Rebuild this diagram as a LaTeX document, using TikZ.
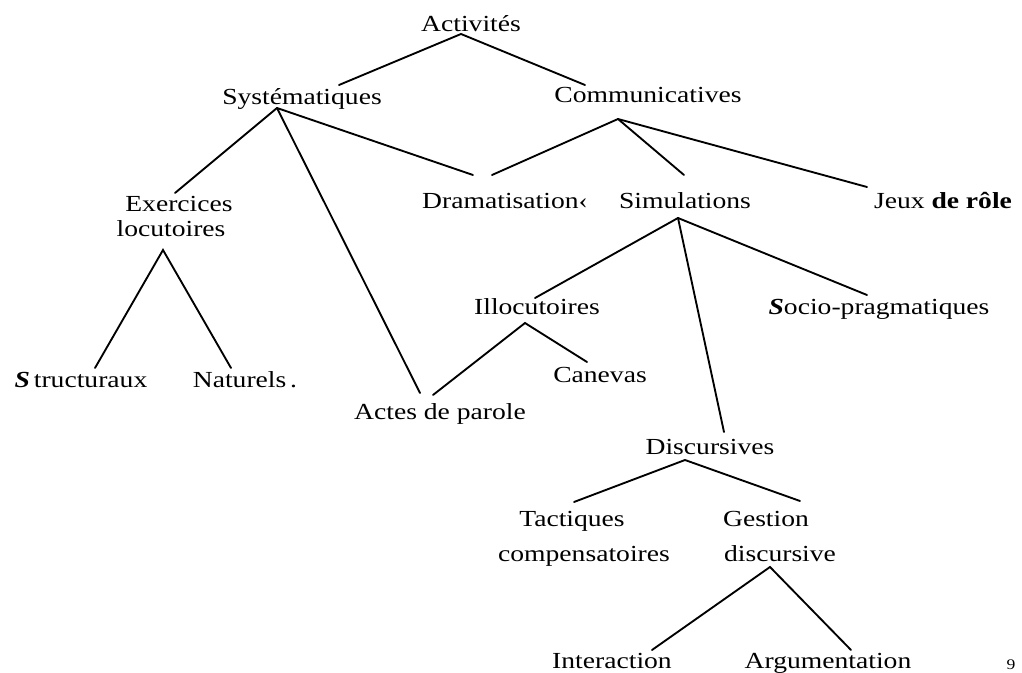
\documentclass[tikz,border=0pt]{standalone}
\usepackage{fontspec}
\setmainfont{Liberation Serif}[FakeStretch=1.2]
\usetikzlibrary{calc}
\begin{document}
\begin{tikzpicture}[x=0.75pt,y=-0.75pt,
  lbl/.style={inner sep=0pt, anchor=base, font=\fontsize{17.25}{20}\selectfont},
  edge/.style={line width=1.4pt, line cap=round}]
\useasboundingbox (0,0) rectangle (1022,673);
\node[lbl] (act) at (471,32) {Activités};
\node[lbl] (sys) at (302,105) {Systématiques};
\node[lbl] (com) at (648,103) {Communicatives};
\node[lbl] (exe) at (179,212) {Exercices};
\node[lbl] (loc) at (171,237) {locutoires};
\node[lbl] (dra) at (505,209) {Dramatisation‹};
\node[lbl] (sim) at (685,209) {Simulations};
\node[lbl] (jeu) at (943,209) {Jeux \textbf{de rôle}};
\node[lbl] (ill) at (537,315) {Illocutoires};
\node[lbl] (soc) at (879,315) {\textbf{\textit{S}}ocio-pragmatiques};
\node[lbl] (str) at (81,388) {\textbf{\textit{S}}\,tructuraux};
\node[lbl] (nat) at (245,388) {Naturels\,.};
\node[lbl] (can) at (600,383) {Canevas};
\node[lbl] (apa) at (440,420) {Actes de parole};
\node[lbl] (dis) at (710,455) {Discursives};
\node[lbl] (tac) at (572,527) {Tactiques};
\node[lbl] (cmp) at (584,562) {compensatoires};
\node[lbl] (ges) at (766,527) {Gestion};
\node[lbl] (gdi) at (780,562) {discursive};
\node[lbl] (int) at (612,668) {Interaction};
\node[lbl] (arg) at (828,668) {Argumentation};
\node[lbl, font=\fontsize{11}{13}\selectfont] (pg) at (1011,670) {9};
% Activites
\draw[edge] ($(sys.base)+(37,-20)$) -- ($(act.base)+(-10,2)$) -- ($(com.base)+(-63,-18)$);
% Systematiques
\draw[edge] ($(sys.base)+(-25,3)$) -- ($(exe.base)+(-4,-19)$);
\draw[edge] ($(sys.base)+(-25,3)$) -- ($(apa.base)+(-20,-27)$);
\draw[edge] ($(sys.base)+(-25,3)$) -- ($(dra.base)+(-32,-34)$);
% Communicatives
\draw[edge] ($(com.base)+(-30,16)$) -- ($(dra.base)+(-13,-34)$);
\draw[edge] ($(com.base)+(-30,16)$) -- ($(sim.base)+(-1,-34)$);
\draw[edge] ($(com.base)+(-30,16)$) -- ($(jeu.base)+(-76,-22)$);
% Exercices locutoires
\draw[edge] ($(str.base)+(14,-20)$) -- ($(loc.base)+(-8,13)$) -- ($(nat.base)+(-14,-20)$);
% Simulations
\draw[edge] ($(sim.base)+(-7,9)$) -- ($(ill.base)+(-2,-17)$);
\draw[edge] ($(sim.base)+(-7,9)$) -- ($(soc.base)+(-12,-20)$);
\draw[edge] ($(sim.base)+(-7,9)$) -- ($(dis.base)+(14,-23)$);
% Illocutoires
\draw[edge] ($(apa.base)+(-7,-25)$) -- ($(ill.base)+(-12,8)$) -- ($(can.base)+(-13,-21)$);
% Discursives
\draw[edge] ($(tac.base)+(2,-25)$) -- ($(dis.base)+(-25,5)$) -- ($(ges.base)+(34,-26)$);
% Gestion discursive
\draw[edge] ($(int.base)+(40,-18)$) -- ($(gdi.base)+(-10,5)$) -- ($(arg.base)+(23,-18)$);
\end{tikzpicture}
\end{document}
